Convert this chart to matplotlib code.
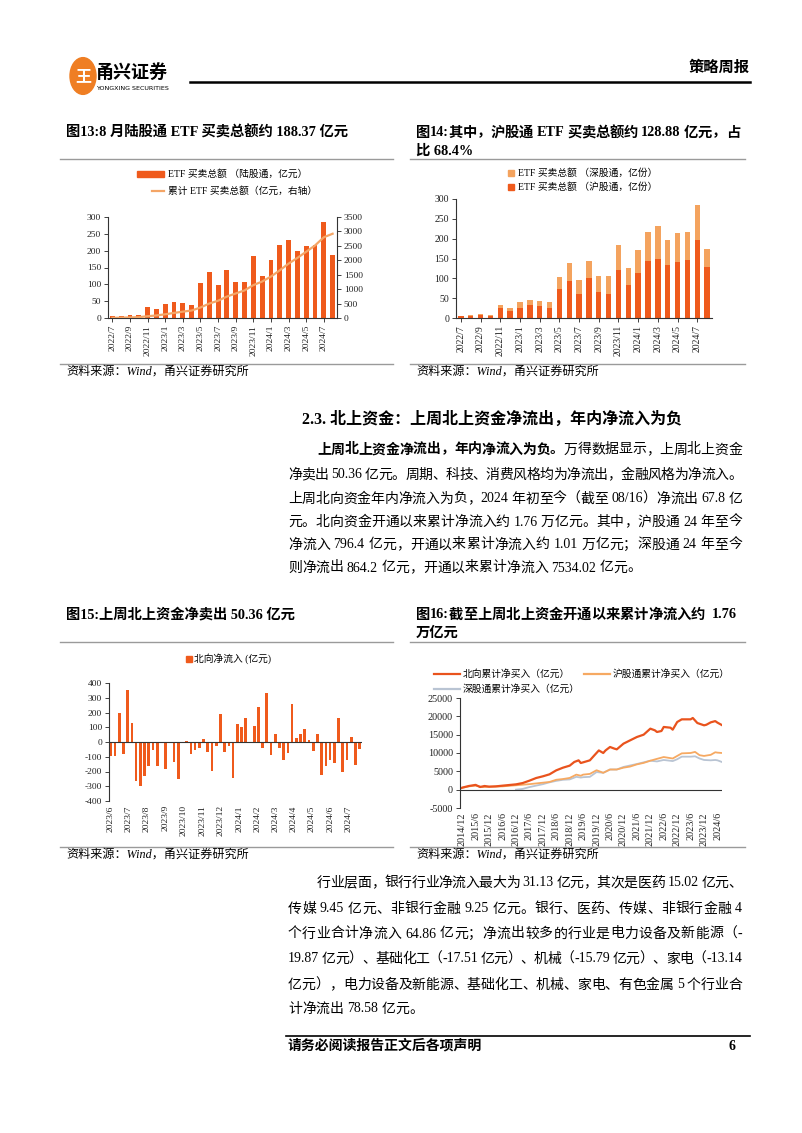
import re
import numpy as np
import pandas as pd
import matplotlib
matplotlib.use('Agg')
import matplotlib.pyplot as plt
from matplotlib.lines import Line2D
from matplotlib.patches import Rectangle, Circle

plt.rcParams['font.family'] = ['Liberation Serif', 'Noto Sans CJK SC', 'DejaVu Sans']
plt.rcParams['axes.unicode_minus'] = False

# ---------- 数据 ----------
# 图13 / 图14: 月度, 2022/7 - 2024/8
months = pd.date_range('2022-07-01', periods=26, freq='MS')
etf_total = [5, 6, 9, 8, 34, 26, 41, 47, 44, 40, 104, 137, 98, 144, 107, 106,
             183, 125, 172, 216, 232, 198, 214, 216, 285, 188.37]
etf_cum = [5, 11, 20, 28, 62, 88, 129, 176, 220, 260, 364, 501, 599, 743, 850, 956,
           1139, 1264, 1436, 1652, 1884, 2082, 2296, 2512, 2797, 2920]
etf_sh = [4, 5, 7, 6, 24, 18, 25, 34, 31, 26, 73, 94, 61, 100, 65, 60,
          120, 82, 113, 143, 150, 134, 140, 147, 197, 128.88]
etf_sz = [1, 2, 3, 2, 9, 6, 16, 12, 13, 14, 30, 44, 36, 44, 41, 45,
          63, 43, 58, 74, 81, 63, 74, 70, 88, 44]

# 图15: 周度北向净流入(亿元)
flow_start = '2023-06-02'
flow = [-95, -95, 200, -80, 350, 130, -265, -295, -230, -165, -55, -160, -8, -180,
        0, -135, -250, -10, 10, -80, -55, -40, 20, -65, -195, -30, 190, -65, -30, -245,
        125, 100, 165, 0, 110, 240, -40, 330, -85, 55, -40, -120, -75, 260, 25, 55,
        90, 15, -60, 55, -225, -165, -125, -145, 160, -200, -125, 35, -155, -50.36]

# 图16: 累计净买入(亿元)
north_dates = ['2014-11', '2014-12', '2015-03', '2015-06', '2015-08', '2015-10', '2015-12',
               '2016-03', '2016-06', '2016-09', '2016-12', '2017-03', '2017-06', '2017-09',
               '2017-12', '2018-03', '2018-06', '2018-09', '2018-12', '2019-02', '2019-04',
               '2019-05', '2019-06', '2019-09', '2019-11', '2020-01', '2020-03', '2020-04',
               '2020-06', '2020-08', '2020-09', '2020-12', '2021-03', '2021-06', '2021-09',
               '2021-12', '2022-02', '2022-03', '2022-05', '2022-06', '2022-09', '2022-10',
               '2022-12', '2023-02', '2023-06', '2023-07', '2023-09', '2023-12', '2024-01',
               '2024-03', '2024-05', '2024-06', '2024-08']
north_vals = [300, 550, 1000, 1300, 730, 1000, 820, 900, 1090, 1270, 1450, 1800, 2450, 3180,
              3640, 4180, 5270, 6000, 6550, 7550, 8000, 7270, 7450, 8000, 9360, 10700, 10000,
              10700, 11640, 11180, 11000, 12550, 13450, 14360, 15000, 16640, 16180, 15730,
              16000, 17100, 16900, 16360, 18450, 19180, 19180, 19550, 18180, 17550, 17700,
              18360, 18700, 18270, 17600]
sh_dates = ['2014-11', '2014-12', '2015-03', '2015-06', '2015-09', '2015-12', '2016-06',
            '2016-12', '2017-06', '2017-12', '2018-03', '2018-06', '2018-09', '2018-12',
            '2019-03', '2019-05', '2019-06', '2019-09', '2019-12', '2020-03', '2020-06',
            '2020-09', '2020-12', '2021-03', '2021-06', '2021-09', '2021-12', '2022-03',
            '2022-06', '2022-10', '2022-12', '2023-02', '2023-06', '2023-08', '2023-10',
            '2023-12', '2024-03', '2024-05', '2024-06', '2024-08']
sh_vals = [300, 500, 900, 1100, 700, 800, 900, 1200, 1500, 1900, 2100, 2700, 2900, 3200,
           4100, 3800, 4100, 4300, 5300, 4600, 5500, 5500, 6000, 6300, 6900, 7300, 7900,
           8400, 8900, 8500, 9200, 9900, 10000, 10300, 9400, 9200, 9500, 10200, 10100, 10000]
sz_dates = ['2016-12', '2017-03', '2017-06', '2017-12', '2018-03', '2018-06', '2018-09',
            '2018-12', '2019-03', '2019-05', '2019-06', '2019-09', '2019-12', '2020-03',
            '2020-06', '2020-09', '2020-12', '2021-06', '2021-12', '2022-03', '2022-06',
            '2022-10', '2022-12', '2023-02', '2023-06', '2023-08', '2023-10', '2023-12',
            '2024-03', '2024-05', '2024-06', '2024-08']
sz_vals = [0, 200, 700, 1500, 2000, 2400, 2700, 2800, 3500, 3300, 3400, 3500, 4800, 4600,
           5500, 5500, 6200, 7000, 7900, 7700, 8100, 7800, 8300, 9000, 9000, 9100, 8500,
           8100, 8000, 8100, 8000, 7534]

# ---------- 颜色 ----------
C_RED = '#EF5A1C'
C_LIGHT = '#F4A35E'
C_LINE = '#F4A566'
C_N = '#E9531D'
C_SH = '#F6A962'
C_SZ = '#B9C4D3'
C_GRAY = '#9A9A9A'
TITLE = 10.3

W, H = 802, 1133
fig = plt.figure(figsize=(W / 100, H / 100), dpi=100)
renderer = fig.canvas.get_renderer()


def fy(y):
    return 1 - y / H


def axes_px(l, t, r, b):
    return fig.add_axes([l / W, 1 - b / H, (r - l) / W, (b - t) / H])


def txt(x, y, s, **kw):
    kw.setdefault('va', 'center')
    return fig.text(x / W, fy(y), s, **kw)


def hline(x0, x1, y, color=C_GRAY, lw=1.0):
    fig.add_artist(Line2D([x0 / W, x1 / W], [fy(y), fy(y)], color=color, lw=lw,
                          transform=fig.transFigure))


def jline(x0, x1, y, segs, size, justify=True, **kw):
    # 两端对齐: 按字符拆开, 均匀分配剩余空间
    if isinstance(segs, str):
        segs = [(segs, 'normal')]
    arts, widths = [], []
    for s, wt in segs:
        for tk in re.findall(r'[\x21-\x7e]+| +|.', s):
            if tk.isspace():
                arts.append(None)
                widths.append(size * 0.25 * 100 / 72 * len(tk))
                continue
            a = fig.text(0, 0, tk, fontsize=size, weight=wt, va='center', ha='left', **kw)
            arts.append(a)
            widths.append(a.get_window_extent(renderer).width)
    n = len(arts) - 1
    gap = (x1 - x0 - sum(widths)) / n if justify and n > 0 else 0
    x = x0
    for a, w in zip(arts, widths):
        if a is not None:
            a.set_position((x / W, fy(y)))
        x += w + gap


def style_ax(ax, size=7):
    for sp in ['top', 'right']:
        ax.spines[sp].set_visible(False)
    for sp in ['left', 'bottom']:
        ax.spines[sp].set_color('#333333')
        ax.spines[sp].set_linewidth(0.8)
    ax.tick_params(labelsize=size, length=3, width=0.6, pad=2, colors='#222222')
    ax.set_facecolor('none')


# ---------- 页眉 ----------
fig.add_artist(Circle((83 / W, fy(76)), 13 / W, color='#EF7E23', transform=fig.transFigure))
txt(83, 76, '王', color='white', fontsize=11.5, weight='bold', ha='center',
    family=['Noto Sans CJK SC'])
txt(96, 72, '甬兴证券', fontsize=13, weight='bold', family=['Noto Sans CJK SC'])
txt(96, 88, 'YONGXING SECURITIES', fontsize=4.6, family=['DejaVu Sans'])
hline(190, 750, 82, color='black', lw=1.8)
txt(750, 68, '策略周报', fontsize=11, weight='bold', ha='right')

# ---------- 图13 ----------
txt(66, 132, '图13:8 月陆股通 ETF 买卖总额约 188.37 亿元', fontsize=TITLE, weight='bold')
hline(60, 393, 159)
fig.add_artist(Rectangle((137 / W, fy(177)), 27 / W, 6 / H, color=C_RED,
                         transform=fig.transFigure))
txt(168, 174, 'ETF 买卖总额 （陆股通，亿元）', fontsize=7)
hline(152, 164, 191, color=C_LINE, lw=1.6)
txt(168, 191, '累计 ETF 买卖总额（亿元，右轴）', fontsize=7)

labels = [f'{d.year}/{d.month}' for d in months]
x = np.arange(len(months))
ax13 = axes_px(108, 217, 337, 318)
ax13.bar(x, etf_total, width=0.55, color=C_RED, zorder=2)
ax13.set_xlim(-0.5, len(x) - 0.5)
ax13.set_ylim(0, 300)
ax13.set_yticks(range(0, 301, 50))
ax13.set_xticks(x[::2])
ax13.set_xticklabels(labels[::2], rotation=90)
style_ax(ax13, 6.8)
ax13b = ax13.twinx()
ax13b.plot(x, etf_cum, color=C_LINE, lw=1.6)
ax13b.set_ylim(0, 3500)
ax13b.set_yticks(range(0, 3501, 500))
ax13b.spines['top'].set_visible(False)
ax13b.spines['left'].set_visible(False)
ax13b.spines['bottom'].set_visible(False)
ax13b.spines['right'].set_color('#333333')
ax13b.spines['right'].set_linewidth(0.8)
ax13b.tick_params(labelsize=6.8, length=3, width=0.6, pad=2, colors='#222222')
hline(60, 393, 364)
txt(66, 372, '资料来源：Wind，甬兴证券研究所', fontsize=8.7, style='italic')

# ---------- 图14 ----------
jline(416, 740, 133, [('图14:其中，沪股通 ETF 买卖总额约 128.88 亿元，占', 'bold')], TITLE)
txt(416, 151, '比 68.4%', fontsize=TITLE, weight='bold')
hline(410, 745, 159)
fig.add_artist(Rectangle((508 / W, fy(176)), 6 / W, 6 / H, color=C_LIGHT,
                         transform=fig.transFigure))
txt(518, 173, 'ETF 买卖总额 （深股通，亿份）', fontsize=7)
fig.add_artist(Rectangle((508 / W, fy(190)), 6 / W, 6 / H, color=C_RED,
                         transform=fig.transFigure))
txt(518, 187, 'ETF 买卖总额 （沪股通，亿份）', fontsize=7)

ax14 = axes_px(456, 199, 712, 318)
ax14.bar(x, etf_sh, width=0.55, color=C_RED, zorder=2)
ax14.bar(x, etf_sz, width=0.55, bottom=etf_sh, color=C_LIGHT, zorder=2)
ax14.set_xlim(-0.5, len(x) - 0.5)
ax14.set_ylim(0, 300)
ax14.set_yticks(range(0, 301, 50))
ax14.set_xticks(x[::2])
ax14.set_xticklabels(labels[::2], rotation=90)
style_ax(ax14, 7)
hline(410, 745, 364)
txt(416, 372, '资料来源：Wind，甬兴证券研究所', fontsize=8.7, style='italic')

# ---------- 正文 2.3 ----------
txt(302, 420, '2.3. 北上资金：上周北上资金净流出，年内净流入为负', fontsize=11.5, weight='bold')
body = [
    [('上周北上资金净流出，年内净流入为负。', 'bold'), ('万得数据显示，上周北上资金', 'normal')],
    '净卖出 50.36 亿元。周期、科技、消费风格均为净流出，金融风格为净流入。',
    '上周北向资金年内净流入为负，2024 年初至今（截至 08/16）净流出 67.8 亿',
    '元。北向资金开通以来累计净流入约 1.76 万亿元。其中，沪股通 24 年至今',
    '净流入 796.4 亿元，开通以来累计净流入约 1.01 万亿元；深股通 24 年至今',
    '则净流出 864.2 亿元，开通以来累计净流入 7534.02 亿元。',
]
body_y = [450, 475, 499, 522, 545, 568]
for i, (line, yy) in enumerate(zip(body, body_y)):
    jline(317 if i == 0 else 288, 742, yy, line, 10, justify=i < len(body) - 1)

# ---------- 图15 ----------
txt(66, 615, '图15:上周北上资金净卖出 50.36 亿元', fontsize=TITLE, weight='bold')
hline(60, 393, 642)
fig.add_artist(Rectangle((186 / W, fy(662)), 6 / W, 6 / H, color=C_RED,
                         transform=fig.transFigure))
txt(194, 659, '北向净流入 (亿元)', fontsize=7)

d15 = pd.date_range(flow_start, periods=len(flow), freq='7D')
ax15 = axes_px(109, 683, 362, 801)
ax15.bar(d15, flow, width=4.5, color=C_RED, zorder=2)
ax15.axhline(0, color='#333333', lw=0.8, zorder=3)
ax15.set_xlim(d15[0] - pd.Timedelta(days=3), d15[-1] + pd.Timedelta(days=4))
ax15.set_ylim(-400, 400)
ax15.set_yticks(range(-400, 401, 100))
m15 = pd.date_range('2023-06-01', d15[-1], freq='MS')
ax15.set_xticks(m15)
ax15.set_xticklabels([f'{d.year}/{d.month}' for d in m15], rotation=90)
style_ax(ax15, 6.8)
ax15.spines['bottom'].set_visible(False)
ax15.tick_params(axis='x', length=0, pad=3)
hline(60, 393, 847)
txt(66, 855, '资料来源：Wind，甬兴证券研究所', fontsize=8.7, style='italic')

# ---------- 图16 ----------
jline(416, 737, 615, [('图16:截至上周北上资金开通以来累计净流入约  1.76', 'bold')], TITLE)
txt(416, 633, '万亿元', fontsize=TITLE, weight='bold')
hline(410, 745, 642)
hline(434, 460, 674, color=C_N, lw=1.6)
txt(463, 674, '北向累计净买入（亿元）', fontsize=7)
hline(584, 610, 674, color=C_SH, lw=1.6)
txt(613, 674, '沪股通累计净买入（亿元）', fontsize=7)
hline(434, 460, 689, color=C_SZ, lw=1.6)
txt(463, 689, '深股通累计净买入（亿元）', fontsize=7)

dn = pd.to_datetime(north_dates, format='%Y-%m')
dsh = pd.to_datetime(sh_dates, format='%Y-%m')
dsz = pd.to_datetime(sz_dates, format='%Y-%m')
ax16 = axes_px(460, 698, 722, 808)
ax16.plot(dsz, sz_vals, color=C_SZ, lw=1.3)
ax16.plot(dsh, sh_vals, color=C_SH, lw=1.3)
ax16.plot(dn, north_vals, color=C_N, lw=1.6)
ax16.axhline(0, color='#333333', lw=0.8)
ax16.set_xlim(dn[0], dn[-1])
ax16.set_ylim(-5000, 25000)
ax16.set_yticks(range(-5000, 25001, 5000))
t16 = pd.date_range('2014-12-01', '2024-06-01', freq='6MS')
ax16.set_xticks(t16)
ax16.set_xticklabels([f'{d.year}/{d.month}' for d in t16], rotation=90)
style_ax(ax16, 7.3)
ax16.spines['bottom'].set_visible(False)
ax16.tick_params(axis='x', length=0, pad=3)
hline(410, 745, 847)
txt(416, 855, '资料来源：Wind，甬兴证券研究所', fontsize=8.7, style='italic')

# ---------- 正文 行业 ----------
body2 = [
    '行业层面，银行行业净流入最大为 31.13 亿元，其次是医药 15.02 亿元、',
    '传媒 9.45 亿元、非银行金融 9.25 亿元。银行、医药、传媒、非银行金融 4',
    '个行业合计净流入 64.86 亿元；净流出较多的行业是电力设备及新能源（-',
    '19.87 亿元）、基础化工（-17.51 亿元）、机械（-15.79 亿元）、家电（-13.14',
    '亿元），电力设备及新能源、基础化工、机械、家电、有色金属 5 个行业合',
    '计净流出 78.58 亿元。',
]
body2_y = [883, 909, 934, 959, 985, 1009]
for i, (line, yy) in enumerate(zip(body2, body2_y)):
    jline(317 if i == 0 else 288, 742, yy, line, 10, justify=i < len(body2) - 1)

# ---------- 页脚 ----------
hline(286, 750, 1036, color='black', lw=1.2)
txt(288, 1046, '请务必阅读报告正文后各项声明', fontsize=10, weight='bold')
txt(735, 1046, '6', fontsize=10, weight='bold', ha='right')

fig.savefig('out.png', dpi=100)
